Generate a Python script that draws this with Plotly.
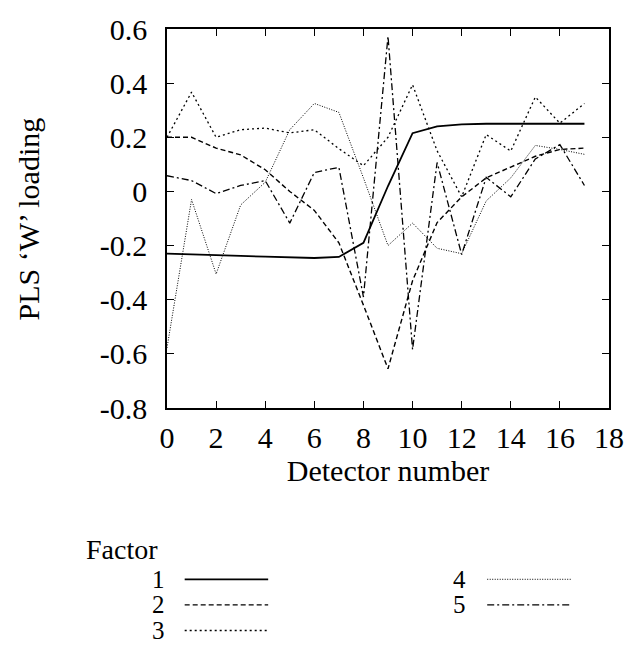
import plotly.graph_objects as go

detector = list(range(18))
factor1 = [-0.23, -0.232, -0.235, -0.238, -0.241, -0.244, -0.246, -0.242, -0.19, 0.02,
           0.215, 0.24, 0.248, 0.25, 0.25, 0.25, 0.25, 0.25]
factor2 = [0.2, 0.2, 0.16, 0.135, 0.08, 0.0, -0.07, -0.19, -0.42, -0.655,
           -0.33, -0.115, -0.02, 0.05, 0.09, 0.13, 0.155, 0.16]
factor3 = [0.2, 0.367, 0.2, 0.228, 0.234, 0.216, 0.228, 0.158, 0.095, 0.2,
           0.394, 0.15, -0.02, 0.21, 0.149, 0.349, 0.252, 0.325]
factor4 = [-0.578, -0.03, -0.305, -0.05, 0.034, 0.228, 0.325, 0.292, 0.05, -0.2,
           -0.117, -0.21, -0.23, -0.035, 0.05, 0.17, 0.155, 0.137]
factor5 = [0.058, 0.04, -0.008, 0.022, 0.04, -0.117, 0.07, 0.089, -0.39, 0.573,
           -0.584, 0.107, -0.233, 0.052, -0.02, 0.12, 0.173, 0.022]

factor_names = ["1", "2", "3", "4", "5"]
y_tickvals = [-0.8, -0.6, -0.4, -0.2, 0, 0.2, 0.4, 0.6]
y_ticktext = ["-0.8", "-0.6", "-0.4", "-0.2", "0", "0.2", "0.4", "0.6"]
x_tickvals = [0, 2, 4, 6, 8, 10, 12, 14, 16, 18]

series = [factor1, factor2, factor3, factor4, factor5]
dashes = ["solid", "5px,3px", "2px,3px", "1px,1.5px", "7px,3px,2px,3px"]
widths = [1.8, 1.4, 1.3, 1.0, 1.3]

FONT = "Liberation Serif"
FS = 30
W, H = 636, 659
L, R, T, B = 167, 617, 23, 408

fig = go.Figure()
for name, ys, d, w in zip(factor_names, series, dashes, widths):
    fig.add_trace(go.Scatter(x=detector, y=ys, mode="lines", name=name,
                             line=dict(color="black", dash=d, width=w),
                             showlegend=False))

def px(x):
    return (x - L) / (R - L)

def py(y):
    return (B - y) / (B - T)

annotations = [
    dict(text="Factor", x=px(83), y=py(552), xref="paper", yref="paper",
         xanchor="left", yanchor="middle", showarrow=False,
         font=dict(family=FONT, size=28, color="black")),
    dict(text="PLS \u2018W\u2019 loading", x=px(27), y=py(216), xref="paper", yref="paper",
         xanchor="center", yanchor="middle", showarrow=False, textangle=-90,
         font=dict(family=FONT, size=FS, color="black")),
]
shapes = []
legend_pos = [(158, 185, 270, 582), (158, 185, 270, 608), (158, 185, 270, 634),
              (465, 493, 578, 582), (465, 493, 578, 608)]
for name, (nx, x0, x1, yy), d, w in zip(factor_names, legend_pos, dashes, widths):
    annotations.append(dict(text=name, x=px(nx), y=py(yy), xref="paper", yref="paper",
                            xanchor="center", yanchor="middle", showarrow=False,
                            font=dict(family=FONT, size=25, color="black")))
    shapes.append(dict(type="line", xref="paper", yref="paper",
                       x0=px(x0), x1=px(x1), y0=py(yy), y1=py(yy),
                       line=dict(color="black", dash=d, width=w)))

axis_common = dict(showline=True, linecolor="black", linewidth=1.5, mirror="allticks",
                   ticks="inside", ticklen=7, tickwidth=1.2, tickcolor="black",
                   showgrid=False, zeroline=False,
                   tickfont=dict(family=FONT, size=FS, color="black"))

fig.update_layout(
    width=W, height=H,
    margin=dict(l=L, r=W - R, t=T, b=H - B),
    paper_bgcolor="white", plot_bgcolor="white",
    font=dict(family=FONT, color="black"),
    xaxis=dict(range=[0, 18], tickvals=x_tickvals, ticklabelstandoff=2,
               title=dict(text="Detector number", font=dict(family=FONT, size=FS), standoff=4),
               **axis_common),
    yaxis=dict(range=[-0.8, 0.6], tickvals=y_tickvals, ticktext=y_ticktext,
               ticklabelstandoff=12, **axis_common),
    annotations=annotations,
    shapes=shapes,
)

fig.write_html("out.html")
